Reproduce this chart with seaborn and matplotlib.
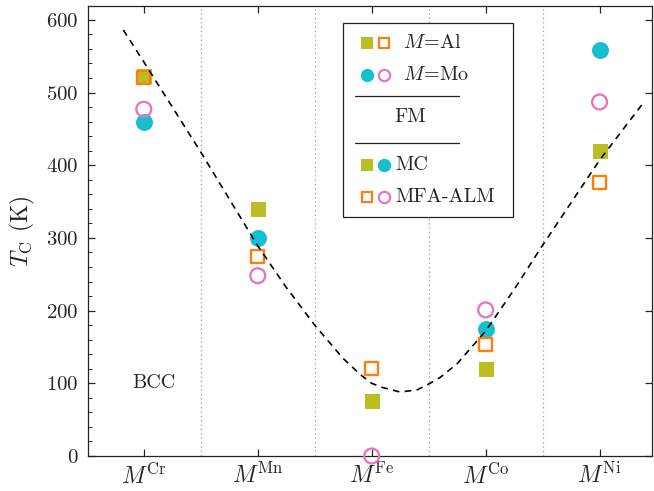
import numpy as np
import pandas as pd
import matplotlib
matplotlib.use("Agg")
import matplotlib.pyplot as plt
from matplotlib.patches import Rectangle
from matplotlib.lines import Line2D
import seaborn as sns

# ---- data -------------------------------------------------------------
sites = ["Cr", "Mn", "Fe", "Co", "Ni"]
tick_labels = [r"$M^{\mathrm{%s}}$" % s for s in sites]

# Curie temperatures (K)
tc_al_mc = [523, 340, 75, 120, 420]
tc_al_mfa = [521, 274, 120, 153, 376]
tc_mo_mc = [460, 300, np.nan, 175, 559]
tc_mo_mfa = [477, 248, 0, 201, 487]

# guide curve through the BCC trend
guide_x = [-0.18, 0.0, 0.5, 1.0, 1.25, 1.5, 1.75, 1.9, 2.0, 2.1, 2.25, 2.4,
           2.5, 2.6, 2.75, 3.0, 3.25, 3.5, 4.0, 4.37]
guide_y = [586, 542, 418, 289, 232, 180, 134, 112, 100, 94, 88, 91,
           99, 108, 127, 172, 229, 290, 407, 483]

c_al_mc = "#bcbd22"
c_al_mfa = "#ff7f0e"
c_mo_mc = "#17becf"
c_mo_mfa = "#e377c2"

# ---- style ------------------------------------------------------------
sns.set_style("ticks")
plt.rcParams["font.family"] = ["cmr10", "DejaVu Serif"]
plt.rcParams["mathtext.fontset"] = "cm"
plt.rcParams["axes.formatter.use_mathtext"] = True
plt.rcParams["axes.unicode_minus"] = False

fig = plt.figure(figsize=(6.54, 4.91), dpi=100)
ax = fig.add_axes([88 / 654, 1 - 456 / 491, (652 - 88) / 654, (456 - 6) / 491])

xpos = np.arange(len(sites))
df = pd.DataFrame({
    "x": xpos,
    "al_mc": tc_al_mc, "al_mfa": tc_al_mfa,
    "mo_mc": tc_mo_mc, "mo_mfa": tc_mo_mfa,
})

# separators between sites
for b in xpos[:-1] + 0.5:
    ax.axvline(b, color="#999999", ls=(0, (1, 2.5)), lw=0.9, zorder=1)

ms_sq, ms_ci = 10.8, 12.2
sns.scatterplot(data=df, x="x", y="al_mc", marker="s", s=ms_sq ** 2,
                color=c_al_mc, edgecolor=c_al_mc, linewidth=0, ax=ax, zorder=3,
                clip_on=False)
sns.scatterplot(data=df, x="x", y="mo_mc", marker="o", s=ms_ci ** 2,
                color=c_mo_mc, edgecolor=c_mo_mc, linewidth=0, ax=ax, zorder=3,
                clip_on=False)
sns.scatterplot(data=df, x="x", y="al_mfa", marker="s", s=(ms_sq - 1.2) ** 2,
                facecolor="none", edgecolor=c_al_mfa, linewidth=1.7, ax=ax, zorder=4,
                clip_on=False)
sns.scatterplot(data=df, x="x", y="mo_mfa", marker="o", s=(ms_ci - 1.5) ** 2,
                facecolor="none", edgecolor=c_mo_mfa, linewidth=1.7, ax=ax, zorder=4,
                clip_on=False)

sns.lineplot(x=guide_x, y=guide_y, color="black", lw=1.2, ax=ax, zorder=5,
             sort=False, estimator=None)
ax.lines[-1].set_dashes((4, 3.2))

ax.text(-0.1, 100, "BCC", fontsize=14.5, ha="left", va="center")

# ---- axes -------------------------------------------------------------
ax.set_xlim(-0.49, 4.46)
ax.set_ylim(0, 619)
ax.set_xticks(xpos)
ax.set_xticklabels(tick_labels, fontsize=17)
ax.set_yticks(np.arange(0, 601, 100))
ax.set_yticks(np.arange(0, 601, 20), minor=True)
ax.tick_params(axis="y", labelsize=15, direction="in", length=5, width=0.9, pad=7)
ax.tick_params(axis="y", which="minor", direction="in", length=3, width=0.7,
               right=False)
ax.tick_params(axis="x", direction="in", length=5, width=0.9, top=True, pad=5)
ax.tick_params(axis="y", which="major", right=True)
ax.set_xlabel("")
ax.set_ylabel(r"$T_{\mathrm{C}}$ (K)", fontsize=17, labelpad=6)
for sp in ax.spines.values():
    sp.set_visible(True)
    sp.set_linewidth(0.9)
    sp.set_color("#222222")

# ---- legend -----------------------------------------------------------
def axf(px, py):
    return ((px - 88) / 564, (456 - py) / 450)

x0, y0 = axf(343, 217)
x1, y1 = axf(513, 23)
ax.add_patch(Rectangle((x0, y0), x1 - x0, y1 - y0, transform=ax.transAxes,
                       facecolor="white", edgecolor="#222222", lw=0.9, zorder=10))

mx1, mx2 = axf(367, 0)[0], axf(384, 0)[0]
lg_sq, lg_ci = 8.8, 9.6


def leg_marker(xf, yf, marker, color, filled):
    size = lg_sq if marker == "s" else lg_ci
    if filled:
        ax.plot([xf], [yf], marker=marker, ms=size, color=color, mec=color,
                mew=0, ls="none", transform=ax.transAxes, zorder=11, clip_on=False)
    else:
        ax.plot([xf], [yf], marker=marker, ms=size - 1.5, mfc="none", mec=color,
                mew=1.6, ls="none", transform=ax.transAxes, zorder=11, clip_on=False)


rows = [
    (43, [("s", c_al_mc, True), ("s", c_al_mfa, False)], r"$M\!=\!$Al", 403),
    (75, [("o", c_mo_mc, True), ("o", c_mo_mfa, False)], r"$M\!=\!$Mo", 403),
    (165, [("s", c_al_mc, True), ("o", c_mo_mc, True)], "MC", 395),
    (197, [("s", c_al_mfa, False), ("o", c_mo_mfa, False)], "MFA-ALM", 395),
]
for py, marks, label, tx in rows:
    yf = axf(0, py)[1]
    for xf, (mk, col, fill) in zip([mx1, mx2], marks):
        leg_marker(xf, yf, mk, col, fill)
    ax.text(axf(tx, 0)[0], yf, label, transform=ax.transAxes, fontsize=14.5,
            ha="left", va="center", zorder=11)

for py in (96, 143):
    lx0, ly = axf(355, py)
    lx1, _ = axf(459, py)
    ax.add_line(Line2D([lx0, lx1], [ly, ly], transform=ax.transAxes,
                       color="#222222", lw=0.9, zorder=11))
fx, fy = axf(410, 117)
ax.text(fx, fy, "FM", transform=ax.transAxes, fontsize=14.5, ha="center",
        va="center", zorder=11)

fig.savefig("out.png", dpi=100)
